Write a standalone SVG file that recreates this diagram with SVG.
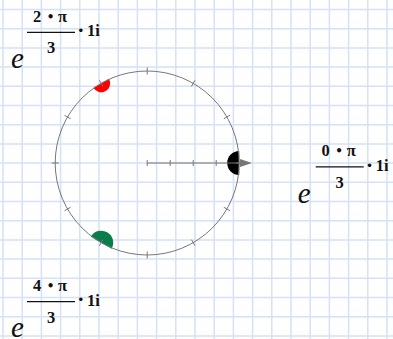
<svg xmlns="http://www.w3.org/2000/svg" width="393" height="339" viewBox="0 0 393 339">
<style>
.grid line{stroke:#d3e2f6;stroke-width:1.5}
.ax{stroke:#777;stroke-width:1;fill:none}
.t{font-family:"Liberation Serif","DejaVu Serif",serif;font-size:16.5px;font-weight:bold;fill:#111}
.dot{font-family:"DejaVu Sans",sans-serif;font-size:12px;fill:#111}
.e{font-family:"Liberation Serif","DejaVu Serif",serif;font-size:29px;font-style:italic;fill:#111}
</style>
<defs>
<path id="half" d="M0 -1 A1 1 0 0 0 0 1 Z"/>
</defs>
<rect width="393" height="339" fill="#fff"/>
<g class="grid" id="grid">
<line x1="3" y1="0" x2="3" y2="339"/><line x1="22.2" y1="0" x2="22.2" y2="339"/><line x1="41.4" y1="0" x2="41.4" y2="339"/><line x1="60.6" y1="0" x2="60.6" y2="339"/><line x1="79.8" y1="0" x2="79.8" y2="339"/><line x1="99" y1="0" x2="99" y2="339"/><line x1="118.2" y1="0" x2="118.2" y2="339"/><line x1="137.4" y1="0" x2="137.4" y2="339"/><line x1="156.6" y1="0" x2="156.6" y2="339"/><line x1="175.8" y1="0" x2="175.8" y2="339"/><line x1="195" y1="0" x2="195" y2="339"/><line x1="214.2" y1="0" x2="214.2" y2="339"/><line x1="233.4" y1="0" x2="233.4" y2="339"/><line x1="252.6" y1="0" x2="252.6" y2="339"/><line x1="271.8" y1="0" x2="271.8" y2="339"/><line x1="291" y1="0" x2="291" y2="339"/><line x1="310.2" y1="0" x2="310.2" y2="339"/><line x1="329.4" y1="0" x2="329.4" y2="339"/><line x1="348.6" y1="0" x2="348.6" y2="339"/><line x1="367.8" y1="0" x2="367.8" y2="339"/><line x1="387" y1="0" x2="387" y2="339"/>
<line x1="0" y1="9.5" x2="393" y2="9.5"/><line x1="0" y1="28.7" x2="393" y2="28.7"/><line x1="0" y1="47.9" x2="393" y2="47.9"/><line x1="0" y1="67.1" x2="393" y2="67.1"/><line x1="0" y1="86.3" x2="393" y2="86.3"/><line x1="0" y1="105.5" x2="393" y2="105.5"/><line x1="0" y1="124.7" x2="393" y2="124.7"/><line x1="0" y1="143.9" x2="393" y2="143.9"/><line x1="0" y1="163.1" x2="393" y2="163.1"/><line x1="0" y1="182.3" x2="393" y2="182.3"/><line x1="0" y1="201.5" x2="393" y2="201.5"/><line x1="0" y1="220.7" x2="393" y2="220.7"/><line x1="0" y1="239.9" x2="393" y2="239.9"/><line x1="0" y1="259.1" x2="393" y2="259.1"/><line x1="0" y1="278.3" x2="393" y2="278.3"/><line x1="0" y1="297.5" x2="393" y2="297.5"/><line x1="0" y1="316.7" x2="393" y2="316.7"/><line x1="0" y1="335.9" x2="393" y2="335.9"/>
</g>
<g id="markers">
<use href="#half" transform="translate(239.2 163) scale(12)" fill="#000"/>
<use href="#half" transform="translate(101.2 83.3) rotate(-120) scale(9)" fill="#f00"/>
<use href="#half" transform="translate(101.2 242.7) rotate(120) scale(12)" fill="#0a7d4a"/>
</g>
<g id="connectors">
<circle class="ax" cx="147.2" cy="163" r="92"/>
<g class="ax">
<line x1="235.7" y1="163" x2="242.7" y2="163"/>
<line x1="223.84" y1="118.75" x2="229.9" y2="115.25"/>
<line x1="191.45" y1="86.36" x2="194.95" y2="80.3"/>
<line x1="147.2" y1="74.5" x2="147.2" y2="67.5"/>
<line x1="102.95" y1="86.36" x2="99.45" y2="80.3"/>
<line x1="70.56" y1="118.75" x2="64.5" y2="115.25"/>
<line x1="58.7" y1="163" x2="51.7" y2="163"/>
<line x1="70.56" y1="207.25" x2="64.5" y2="210.75"/>
<line x1="102.95" y1="239.64" x2="99.45" y2="245.7"/>
<line x1="147.2" y1="251.5" x2="147.2" y2="258.5"/>
<line x1="191.45" y1="239.64" x2="194.95" y2="245.7"/>
<line x1="223.84" y1="207.25" x2="229.9" y2="210.75"/>
<line x1="147.2" y1="163" x2="242" y2="163"/>
<line x1="147.2" y1="160" x2="147.2" y2="166"/>
<line x1="170.2" y1="160" x2="170.2" y2="166"/>
<line x1="193.2" y1="160" x2="193.2" y2="166"/>
<line x1="216.2" y1="160" x2="216.2" y2="166"/>
</g>
<path d="M240 159 L252 163 L240 167 Z" fill="#777"/>
</g>
<g id="eq1">
<text class="e" x="11" y="68">e</text>
<text class="t" y="21.7"><tspan x="37" text-anchor="middle">2</tspan><tspan class="dot" x="50.5" y="20.5" text-anchor="middle">•</tspan><tspan x="62.5" y="21.7" text-anchor="middle">π</tspan></text>
<line x1="27" y1="32.3" x2="75" y2="32.3" stroke="#111" stroke-width="1.2"/>
<text class="t" x="51" y="53" text-anchor="middle">3</text>
<text class="dot" x="80.8" y="35" text-anchor="middle">•</text>
<text class="t" x="87" y="36">1i</text>
</g>
<g id="eq2">
<text class="e" x="297.7" y="202.8">e</text>
<text class="t" y="156.3"><tspan x="325.7" text-anchor="middle">0</tspan><tspan class="dot" x="339.2" y="155.1" text-anchor="middle">•</tspan><tspan x="351.2" y="156.3" text-anchor="middle">π</tspan></text>
<line x1="315.7" y1="166.8" x2="363.7" y2="166.8" stroke="#111" stroke-width="1.2"/>
<text class="t" x="339.7" y="188" text-anchor="middle">3</text>
<text class="dot" x="369.5" y="169.5" text-anchor="middle">•</text>
<text class="t" x="375.7" y="170.5">1i</text>
</g>
<g id="eq3">
<text class="e" x="11" y="336.5">e</text>
<text class="t" y="291"><tspan x="37" text-anchor="middle">4</tspan><tspan class="dot" x="50.5" y="289.8" text-anchor="middle">•</tspan><tspan x="62.5" y="291" text-anchor="middle">π</tspan></text>
<line x1="27" y1="301.7" x2="75" y2="301.7" stroke="#111" stroke-width="1.2"/>
<text class="t" x="51" y="322.5" text-anchor="middle">3</text>
<text class="dot" x="80.8" y="304.4" text-anchor="middle">•</text>
<text class="t" x="87" y="305.5">1i</text>
</g>
</svg>
